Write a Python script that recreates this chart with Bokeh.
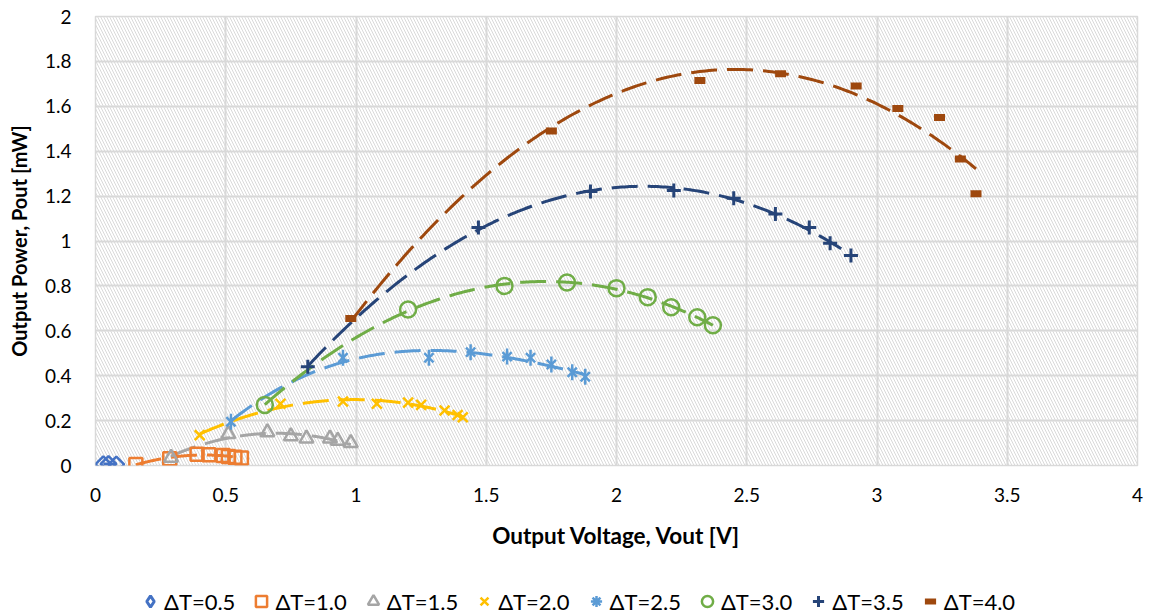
import numpy as np
from bokeh.plotting import figure
from bokeh.layouts import column
from bokeh.models import Range1d, FixedTicker, BoxAnnotation, Legend, LegendItem
from bokeh.embed import file_html
from bokeh.resources import INLINE

# ---------------- data ----------------
labels = ["ΔT=0.5", "ΔT=1.0", "ΔT=1.5", "ΔT=2.0", "ΔT=2.5", "ΔT=3.0", "ΔT=3.5", "ΔT=4.0"]

v_05 = [0.03, 0.05, 0.08]
p_05 = [0.006, 0.007, 0.005]

v_10 = [0.155, 0.285, 0.39, 0.435, 0.49, 0.51, 0.535, 0.56]
p_10 = [0.005, 0.03, 0.05, 0.048, 0.045, 0.04, 0.037, 0.033]

v_15 = [0.29, 0.51, 0.66, 0.75, 0.81, 0.90, 0.93, 0.98]
p_15 = [0.035, 0.14, 0.148, 0.13, 0.12, 0.12, 0.11, 0.10]

v_20 = [0.40, 0.71, 0.95, 1.08, 1.20, 1.25, 1.34, 1.39, 1.41]
p_20 = [0.135, 0.275, 0.285, 0.275, 0.28, 0.27, 0.245, 0.225, 0.215]

v_25 = [0.52, 0.95, 1.28, 1.44, 1.58, 1.67, 1.75, 1.83, 1.88]
p_25 = [0.195, 0.48, 0.48, 0.505, 0.485, 0.48, 0.45, 0.415, 0.395]

v_30 = [0.65, 1.20, 1.57, 1.81, 2.00, 2.12, 2.21, 2.31, 2.37]
p_30 = [0.27, 0.695, 0.80, 0.815, 0.79, 0.75, 0.705, 0.66, 0.625]

v_35 = [0.815, 1.47, 1.90, 2.22, 2.45, 2.61, 2.74, 2.82, 2.90]
p_35 = [0.44, 1.06, 1.22, 1.225, 1.19, 1.12, 1.06, 0.99, 0.935]

v_40 = [0.98, 1.75, 2.32, 2.63, 2.92, 3.08, 3.24, 3.32, 3.38]
p_40 = [0.655, 1.49, 1.715, 1.745, 1.69, 1.59, 1.55, 1.365, 1.21]

trend_order = [2, 2, 2, 2, 3, 2, 2, 2]

x_ticks = [0, 0.5, 1, 1.5, 2, 2.5, 3, 3.5, 4]
x_tick_labels = ["0", "0.5", "1", "1.5", "2", "2.5", "3", "3.5", "4"]
y_ticks = [0, 0.2, 0.4, 0.6, 0.8, 1, 1.2, 1.4, 1.6, 1.8, 2]
y_tick_labels = ["0", "0.2", "0.4", "0.6", "0.8", "1", "1.2", "1.4", "1.6", "1.8", "2"]

colors = ["#4472C4", "#ED7D31", "#A5A5A5", "#FFC000", "#5B9BD5", "#70AD47", "#264478", "#9E480E"]

volts = [v_05, v_10, v_15, v_20, v_25, v_30, v_35, v_40]
powers = [p_05, p_10, p_15, p_20, p_25, p_30, p_35, p_40]

FONT = "Lato"

p = figure(width=1155, height=560, output_backend="svg", toolbar_location=None,
           x_range=Range1d(0, 4), y_range=Range1d(0, 2),
           min_border_left=95, min_border_right=18, min_border_top=16, min_border_bottom=95,
           background_fill_color="white", border_fill_color="white")
p.outline_line_color = "#D9D9D9"
p.outline_line_width = 1.5

# hatched plot area
hatch = BoxAnnotation(left=0, right=4, bottom=0, top=2, fill_color=None, fill_alpha=0,
                      line_alpha=0, hatch_pattern="\\", hatch_color="#D9D9D9",
                      hatch_scale=6, hatch_weight=1, level="image")
p.add_layout(hatch)

# axes
for ax, ticks, tl in ((p.xaxis, x_ticks, x_tick_labels), (p.yaxis, y_ticks, y_tick_labels)):
    ax.ticker = FixedTicker(ticks=ticks)
    ax.major_label_overrides = {t: s for t, s in zip(ticks, tl)}
    ax.axis_line_color = None
    ax.major_tick_line_color = None
    ax.minor_tick_line_color = None
    ax.major_tick_out = 0
    ax.major_tick_in = 0
    ax.minor_tick_out = 0
    ax.major_label_text_font = FONT
    ax.major_label_text_font_size = "19px"
    ax.major_label_text_color = "#000000"
    ax.axis_label_text_font = FONT
    ax.axis_label_text_font_style = "bold"
    ax.axis_label_text_color = "#000000"

p.xaxis.axis_label = "Output Voltage, Vout [V]"
p.yaxis.axis_label = "Output Power, Pout [mW]"
p.xaxis.axis_label_text_font_size = "22.5px"
p.yaxis.axis_label_text_font_size = "20px"
p.xaxis.major_label_standoff = 22
p.xaxis.axis_label_standoff = 17
p.yaxis.major_label_standoff = 24
p.yaxis.axis_label_standoff = 11

p.grid.grid_line_color = "#D9D9D9"
p.grid.grid_line_width = 2

# trendlines (least-squares polynomial fits of each series)
for v, pw, c, k in zip(volts, powers, colors, trend_order):
    coef = np.polyfit(v, pw, k)
    xs = np.linspace(min(v), max(v), 200)
    p.line(xs, np.polyval(coef, xs), line_color=c, line_width=3, line_dash="26 10")

# marker styles per series (chart)
styles = [
    [dict(marker="square", angle=np.pi / 4, size=11, line_color=colors[0], fill_color=None, line_width=2.5)],
    [dict(marker="square", size=13, line_color=colors[1], fill_color=None, line_width=2.5)],
    [dict(marker="triangle", size=14, line_color=colors[2], fill_color=None, line_width=2.5)],
    [dict(marker="x", size=14, line_color=colors[3], line_width=2.5)],
    [dict(marker="x", size=13, line_color=colors[4], line_width=2.5),
     dict(marker="dash", angle=np.pi / 2, size=16, line_color=colors[4], line_width=2.5)],
    [dict(marker="circle", size=16, line_color=colors[5], fill_color=None, line_width=2.5)],
    [dict(marker="cross", size=14, line_color=colors[6], line_width=3)],
    [dict(marker="dash", size=11, line_color=colors[7], line_width=7)],
]

for v, pw, st in zip(volts, powers, styles):
    for s in st:
        p.scatter(v, pw, **s)

# legend styles (legend glyphs are not rotated, so use equivalent unrotated markers)
legend_styles = [
    [dict(marker="diamond", line_color=colors[0], fill_color=None, line_width=3)],
    [dict(marker="square", line_color=colors[1], fill_color=None, line_width=2.5)],
    [dict(marker="triangle", line_color=colors[2], fill_color=None, line_width=2.5)],
    [dict(marker="x", line_color=colors[3], line_width=2.5)],
    [dict(marker="asterisk", line_color=colors[4], line_width=2.5)],
    [dict(marker="circle", line_color=colors[5], fill_color=None, line_width=2.5)],
    [dict(marker="cross", line_color=colors[6], line_width=3)],
    [dict(marker="dash", line_color=colors[7], line_width=6)],
]

# legend strip below the chart (its glyphs use the series data, kept outside its view)
lg = figure(width=1155, height=55, output_backend="svg", toolbar_location=None,
            x_range=Range1d(100, 101), y_range=Range1d(100, 101),
            x_axis_location=None, y_axis_location=None,
            min_border_left=0, min_border_right=0, min_border_top=0, min_border_bottom=0,
            background_fill_color="white", border_fill_color="white")
lg.grid.visible = False
lg.outline_line_color = None

items = []
for lbl, v, pw, st in zip(labels, volts, powers, legend_styles):
    rs = [lg.scatter(v, pw, **s) for s in st]
    items.append(LegendItem(label=lbl, renderers=rs))

legend = Legend(items=items, orientation="horizontal", location=(41, 0),
                border_line_color=None, background_fill_alpha=0,
                label_text_font=FONT, label_text_font_size="22px", label_text_color="#000000",
                glyph_width=28, glyph_height=28, label_standoff=0, spacing=12,
                padding=0, margin=0)
lg.add_layout(legend, "center")

layout = column(p, lg, spacing=0)
open("out.html", "w").write(file_html(layout, INLINE))
